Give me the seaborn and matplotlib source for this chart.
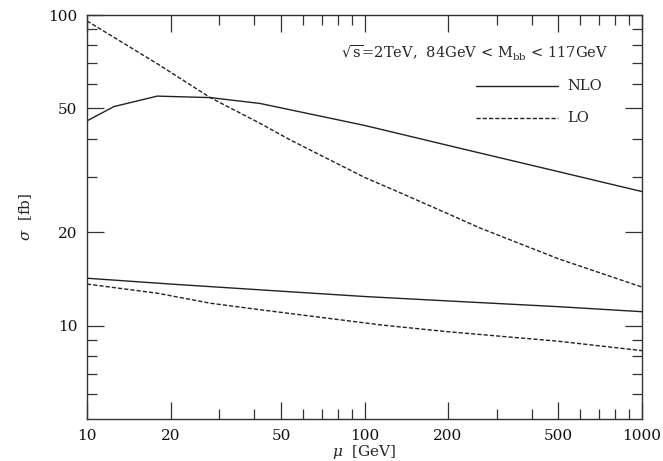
import numpy as np
import pandas as pd
import matplotlib
matplotlib.use("Agg")
import matplotlib.pyplot as plt
import seaborn as sns
from matplotlib.ticker import FixedLocator, NullFormatter, FixedFormatter

# scale mu [GeV]
mu_nlo_up = [10, 12.5, 17.9, 27.8, 42, 100, 233, 500, 1000]
nlo_up = [45.6, 50.7, 54.8, 54.2, 51.9, 44.1, 36.8, 31.3, 27.0]
mu_lo_up = [10, 18, 27.8, 42, 54, 100, 134, 200, 261, 500, 1000]
lo_up = [95.7, 69.5, 54.2, 44.8, 39.6, 30.0, 26.8, 22.9, 20.6, 16.4, 13.3]
mu_nlo_low = [10, 20, 50, 100, 200, 500, 1000]
nlo_low = [14.2, 13.6, 12.9, 12.4, 12.0, 11.5, 11.08]
mu_lo_low = [10, 18, 27.8, 43.5, 115, 200, 500, 1000]
lo_low = [13.6, 12.7, 11.8, 11.2, 10.04, 9.55, 8.9, 8.3]

xticks = [10, 20, 50, 100, 200, 500, 1000]
xticklabels = ["10", "20", "50", "100", "200", "500", "1000"]
yticks = [10, 20, 50, 100]
yticklabels = ["10", "20", "50", "100"]

frames = []
for name, grp, mus, vals in [("NLO", "up", mu_nlo_up, nlo_up), ("LO", "up", mu_lo_up, lo_up),
                              ("NLO", "low", mu_nlo_low, nlo_low), ("LO", "low", mu_lo_low, lo_low)]:
    frames.append(pd.DataFrame({"mu": mus, "sigma": vals, "order": name, "set": grp}))
df = pd.concat(frames, ignore_index=True)

sns.set_style("ticks")
plt.rcParams["font.family"] = ["DejaVu Serif"]
plt.rcParams["mathtext.fontset"] = "dejavuserif"

fig = plt.figure(figsize=(6.63, 4.61), dpi=100)
ax = fig.add_axes([87 / 663, 1 - 419 / 461, (642 - 87) / 663, (419 - 15) / 461])

styles = {"NLO": "-", "LO": (0, (3, 1.5))}
for (name, grp), sub in df.groupby(["order", "set"], sort=False):
    sns.lineplot(data=sub, x="mu", y="sigma", ax=ax, color="#222222", lw=1.0,
                 linestyle=styles[name], legend=False, estimator=None, sort=False)

ax.set_xscale("log")
ax.set_yscale("log")
ax.set_xlim(10, 1000)
ax.set_ylim(5, 100)

ax.xaxis.set_major_locator(FixedLocator(xticks))
ax.xaxis.set_major_formatter(FixedFormatter(xticklabels))
xminor = [m * d for d in (10, 100) for m in range(2, 10) if m * d not in xticks]
ax.xaxis.set_minor_locator(FixedLocator(xminor))
ax.xaxis.set_minor_formatter(NullFormatter())
ax.yaxis.set_major_locator(FixedLocator(yticks))
ax.yaxis.set_major_formatter(FixedFormatter(yticklabels))
yminor = [6, 7, 8, 9, 30, 40, 60, 70, 80, 90]
ax.yaxis.set_minor_locator(FixedLocator(yminor))
ax.yaxis.set_minor_formatter(NullFormatter())

ax.tick_params(which="both", direction="in", top=True, right=True, colors="#333333",
               labelcolor="#111111", labelsize=11, width=0.9)
ax.tick_params(which="major", length=12, pad=7)
ax.tick_params(which="minor", length=7)
for s in ax.spines.values():
    s.set_linewidth(1.0)
    s.set_color("#333333")

ax.set_xlabel(r"$\mu$  [GeV]", fontsize=11, labelpad=0)
ax.set_ylabel(r"$\sigma$  [fb]", fontsize=11, labelpad=10)

ax.text(0.94, 0.905, r"$\sqrt{\rm s}$=2TeV,  84GeV < M$_{\rm bb}$ < 117GeV",
        transform=ax.transAxes, ha="right", va="center", fontsize=10.5)

# legend drawn as lines in axes coords
ax.plot([0.70, 0.848], [0.825, 0.825], transform=ax.transAxes, color="#222222", lw=1.0)
ax.plot([0.70, 0.848], [0.745, 0.745], transform=ax.transAxes, color="#222222", lw=1.0,
        linestyle=(0, (3, 1.5)))
ax.text(0.865, 0.825, "NLO", transform=ax.transAxes, va="center", fontsize=10.5)
ax.text(0.865, 0.745, "LO", transform=ax.transAxes, va="center", fontsize=10.5)

fig.savefig("out.png", dpi=100)
